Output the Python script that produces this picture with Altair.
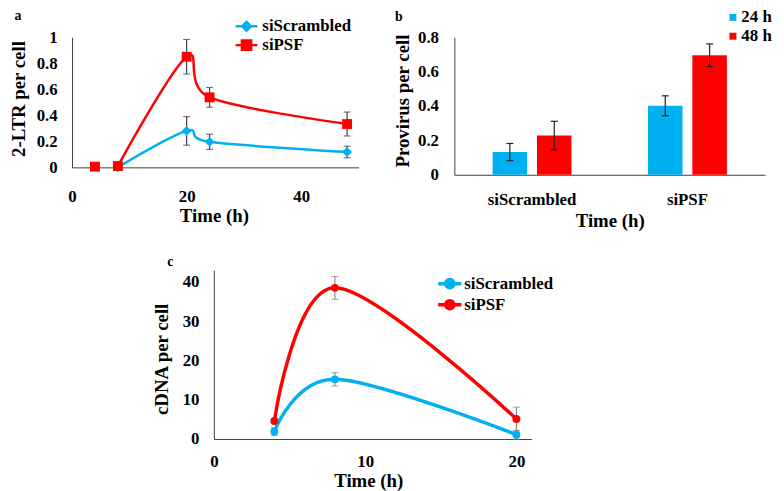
import altair as alt
import pandas as pd

# ---------------- data ----------------
SERIES = ["siScrambled", "siPSF"]

# (a) 2-LTR per cell
A_TIME_SCR = [8, 20, 24, 48]
A_VAL_SCR = [0.0, 0.28, 0.196, 0.118]
A_ERR_SCR = [0.0, 0.11, 0.058, 0.044]
A_TIME_PSF = [4, 8, 20, 24, 48]
A_VAL_PSF = [0.005, 0.01, 0.85, 0.538, 0.333]
A_ERR_PSF = [0.0, 0.0, 0.133, 0.076, 0.092]
A_MARKERS = ["diamond", "square"]
A_X_TICKS = [0, 20, 40]
A_Y_TICKS = [0, 0.2, 0.4, 0.6, 0.8, 1.0]

# (b) Provirus per cell
B_GROUPS = ["siScrambled", "siPSF"]
B_TIMES = ["24 h", "48 h"]
B_VAL_24 = [0.132, 0.401]
B_ERR_24 = [0.05, 0.058]
B_VAL_48 = [0.228, 0.695]
B_ERR_48 = [0.083, 0.066]
B_Y_TICKS = [0, 0.2, 0.4, 0.6, 0.8]

# (c) cDNA per cell
C_TIME = [4, 8, 20]
C_VAL_SCR = [1.9, 15.2, 1.1]
C_ERR_SCR = [1.0, 1.7, 1.1]
C_VAL_PSF = [4.6, 38.5, 5.1]
C_ERR_PSF = [0.3, 2.9, 3.0]
C_X_TICKS = [0, 10, 20]
C_Y_TICKS = [0, 10, 20, 30, 40]

PANEL_LABELS = ["a", "b", "c"]

# ---------------- style / layout ----------------
BLUE = "#00B0F0"
RED = "#FF0000"
FONT = "Liberation Serif"
W, H = 776, 483

A_XR, A_YR = [64.7, 354.2], [158.5, 27]
B_XR, B_YR = [451, 765], [166, 27]
C_XR, C_YR = [208, 529], [433, 262.4]


def make_axis(orient, pos, title, values, pad, tx, ty, fmt=None, **extra):
    offset = -pos if orient == "left" else pos - H
    kw = dict(orient=orient, offset=offset, title=title, values=values,
              labelPadding=pad, titleX=tx, titleY=ty, **extra)
    if fmt:
        kw["format"] = fmt
    return alt.Axis(**kw)


def series_df(times, vals, errs, name):
    d = pd.DataFrame({"time": times, "value": vals, "err": errs})
    d["series"] = name
    d["lo"] = d["value"] - d["err"]
    d["hi"] = d["value"] + d["err"]
    return d


COLOR_EXPR = f"datum.value === 'siPSF' ? '{RED}' : '{BLUE}'"


def line_legend(shape_expr, lx, ly, sw, label_off, row_pad):
    return alt.Legend(
        title=None, orient="none", legendX=lx, legendY=ly,
        symbolSize=121, symbolStrokeWidth=sw, labelOffset=label_off,
        rowPadding=row_pad, padding=0, symbolOpacity=1,
        symbolType=alt.ExprRef(shape_expr),
        symbolFillColor=alt.ExprRef(COLOR_EXPR),
        symbolStrokeColor=alt.ExprRef(COLOR_EXPR),
    )


# ---------------- panel a ----------------
a_df = pd.concat([series_df(A_TIME_SCR, A_VAL_SCR, A_ERR_SCR, SERIES[0]),
                  series_df(A_TIME_PSF, A_VAL_PSF, A_ERR_PSF, SERIES[1])])

a_xscale = alt.Scale(domain=[0, 50], range=A_XR, nice=False, zero=False)
a_yscale = alt.Scale(domain=[0, 1], range=A_YR, nice=False)
a_xaxis = make_axis("bottom", A_YR[0], "Time (h)", A_X_TICKS, 21, 208, 48.5)
a_yaxis = make_axis("left", A_XR[0], "2-LTR per cell", A_Y_TICKS, 15, -54.2, 89, "~g")
A_SHAPE_EXPR = ("datum.value === 'siPSF' ? 'M-2,0H2M-0.85,-0.85H0.85V0.85H-0.85Z' : "
                "'M-2,0H2M0,-0.8L0.8,0L0,0.8L-0.8,0Z'")
a_legend = line_legend(A_SHAPE_EXPR, 232.5, 7.5, 2.5, 7.5, -1)
a_color = alt.Color("series:N", scale=alt.Scale(domain=SERIES, range=[BLUE, RED]),
                    legend=a_legend)
a_x = alt.X("time:Q", scale=a_xscale, axis=a_xaxis)
a_y = alt.Y("value:Q", scale=a_yscale, axis=a_yaxis)

a_base = alt.Chart(a_df)
a_line = a_base.transform_filter("datum.time >= 8").mark_line(
    interpolate="cardinal", strokeWidth=2.5).encode(x=a_x, y=a_y, color=a_color)
a_err = a_base.mark_errorbar(ticks=True, size=7, thickness=1.2, color="#404040").encode(
    x=a_x, y=alt.Y("lo:Q", scale=a_yscale, axis=a_yaxis), y2="hi:Q")
a_pts = [
    a_base.transform_filter(alt.datum.series == name).mark_point(
        filled=True, opacity=1, size=100, shape=marker).encode(x=a_x, y=a_y, color=a_color)
    for name, marker in zip(SERIES, A_MARKERS)
]
panel_a = alt.layer(a_line, a_err, *a_pts)

# ---------------- panel b ----------------
b_df = pd.DataFrame({
    "group": B_GROUPS * 2,
    "time": [B_TIMES[0]] * 2 + [B_TIMES[1]] * 2,
    "value": B_VAL_24 + B_VAL_48,
    "err": B_ERR_24 + B_ERR_48,
})
b_df["lo"] = b_df["value"] - b_df["err"]
b_df["hi"] = b_df["value"] + b_df["err"]

b_xscale = alt.Scale(domain=B_GROUPS, range=B_XR, paddingInner=0, paddingOuter=0)
b_oscale = alt.Scale(domain=B_TIMES, paddingInner=0.222, paddingOuter=0.861)
b_yscale = alt.Scale(domain=[0, 0.8], range=B_YR, nice=False)
b_xaxis = make_axis("bottom", B_YR[0], "Time (h)", B_GROUPS, 17, 608, 46, labelAngle=0)
b_yaxis = make_axis("left", B_XR[0], "Provirus per cell", B_Y_TICKS, 16, -52, 91, "~g")
b_x = alt.X("group:N", sort=B_GROUPS, scale=b_xscale, axis=b_xaxis)
b_off = alt.XOffset("time:N", sort=B_TIMES, scale=b_oscale)

b_base = alt.Chart(b_df)
b_bars = b_base.mark_bar().encode(
    x=b_x, xOffset=b_off,
    y=alt.Y("value:Q", scale=b_yscale, axis=b_yaxis),
    color=alt.Color("time:N", scale=alt.Scale(domain=B_TIMES, range=[BLUE, RED]),
                    legend=alt.Legend(title=None, orient="none", legendX=724, legendY=-1.5,
                                      symbolType="square", symbolSize=49,
                                      symbolStrokeWidth=0, labelOffset=0,
                                      rowPadding=1, padding=0)))
b_rule = b_base.mark_rule(color="#222222", strokeWidth=1.2).encode(
    x=b_x, xOffset=b_off,
    y=alt.Y("lo:Q", scale=b_yscale, axis=b_yaxis), y2="hi:Q")
b_tlo = b_base.mark_tick(color="#222222", size=7, thickness=1.2, opacity=1).encode(
    x=b_x, xOffset=b_off, y=alt.Y("lo:Q", scale=b_yscale, axis=b_yaxis))
b_thi = b_base.mark_tick(color="#222222", size=7, thickness=1.2, opacity=1).encode(
    x=b_x, xOffset=b_off, y=alt.Y("hi:Q", scale=b_yscale, axis=b_yaxis))
panel_b = alt.layer(b_bars, b_rule, b_tlo, b_thi)

# ---------------- panel c ----------------
c_df = pd.concat([series_df(C_TIME, C_VAL_SCR, C_ERR_SCR, SERIES[0]),
                  series_df(C_TIME, C_VAL_PSF, C_ERR_PSF, SERIES[1])])
c_xscale = alt.Scale(domain=[0, 21], range=C_XR, nice=False, zero=False)
c_yscale = alt.Scale(domain=[0, 43], range=C_YR, nice=False)
c_xaxis = make_axis("bottom", C_YR[0], "Time (h)", C_X_TICKS, 15, 364, 41.5)
c_yaxis = make_axis("left", C_XR[0], "cDNA per cell", C_Y_TICKS, 15, -53, 352)
C_SHAPE_EXPR = "'M-2.13,0H2.13M-0.75,0A0.75,0.75 0 1,0 0.75,0A0.75,0.75 0 1,0 -0.75,0Z'"
c_legend = line_legend(C_SHAPE_EXPR, 437.9, 267.5, 3.5, 6.1, -1.7)
c_color = alt.Color("series:N", scale=alt.Scale(domain=SERIES, range=[BLUE, RED]),
                    legend=c_legend)

c_base = alt.Chart(c_df)
c_line = c_base.mark_line(interpolate="cardinal", strokeWidth=3.5).encode(
    x=alt.X("time:Q", scale=c_xscale, axis=c_xaxis),
    y=alt.Y("value:Q", scale=c_yscale, axis=c_yaxis),
    color=c_color)
c_err = c_base.mark_errorbar(ticks=True, size=7, thickness=1.2, color="#8C8C8C").encode(
    x=alt.X("time:Q", scale=c_xscale, axis=c_xaxis),
    y=alt.Y("lo:Q", scale=c_yscale, axis=c_yaxis),
    y2="hi:Q")
c_pts = c_base.mark_point(filled=True, opacity=1, size=64, shape="circle").encode(
    x=alt.X("time:Q", scale=c_xscale, axis=c_xaxis),
    y=alt.Y("value:Q", scale=c_yscale, axis=c_yaxis),
    color=c_color)
panel_c = alt.layer(c_line, c_err, c_pts)

# ---------------- panel letters ----------------
LETTER_POS = {"a": (10, 6), "b": (395, 6.5), "c": (164, 254)}
letters = [
    alt.Chart(pd.DataFrame({"label": [lab]})).mark_text(
        font=FONT, fontSize=14, fontWeight="bold", color="black").encode(
        text="label:N", x=alt.value(LETTER_POS[lab][0]), y=alt.value(LETTER_POS[lab][1]))
    for lab in PANEL_LABELS
]

chart = alt.layer(panel_a, panel_b, panel_c, *letters).resolve_scale(
    x="independent", y="independent", color="independent"
).resolve_axis(x="independent", y="independent").resolve_legend(
    color="independent").properties(
    width=W, height=H, padding=0, autosize=alt.AutoSizeParams(type="none")
).configure_view(stroke=None).configure_axis(
    labelFont=FONT, labelFontSize=17, labelFontWeight="bold", labelColor="black",
    titleFont=FONT, titleFontSize=19, titleFontWeight="bold", titleColor="black",
    domainColor="#404040", domainWidth=1, ticks=False, grid=False,
    labelFlush=False, labelOverlap=False, titleBaseline="middle", titleAlign="center"
).configure_legend(
    labelFont=FONT, labelFontSize=17, labelFontWeight="bold", labelColor="black"
)

chart.save("out.html", embed_options={"renderer": "svg", "actions": False})
